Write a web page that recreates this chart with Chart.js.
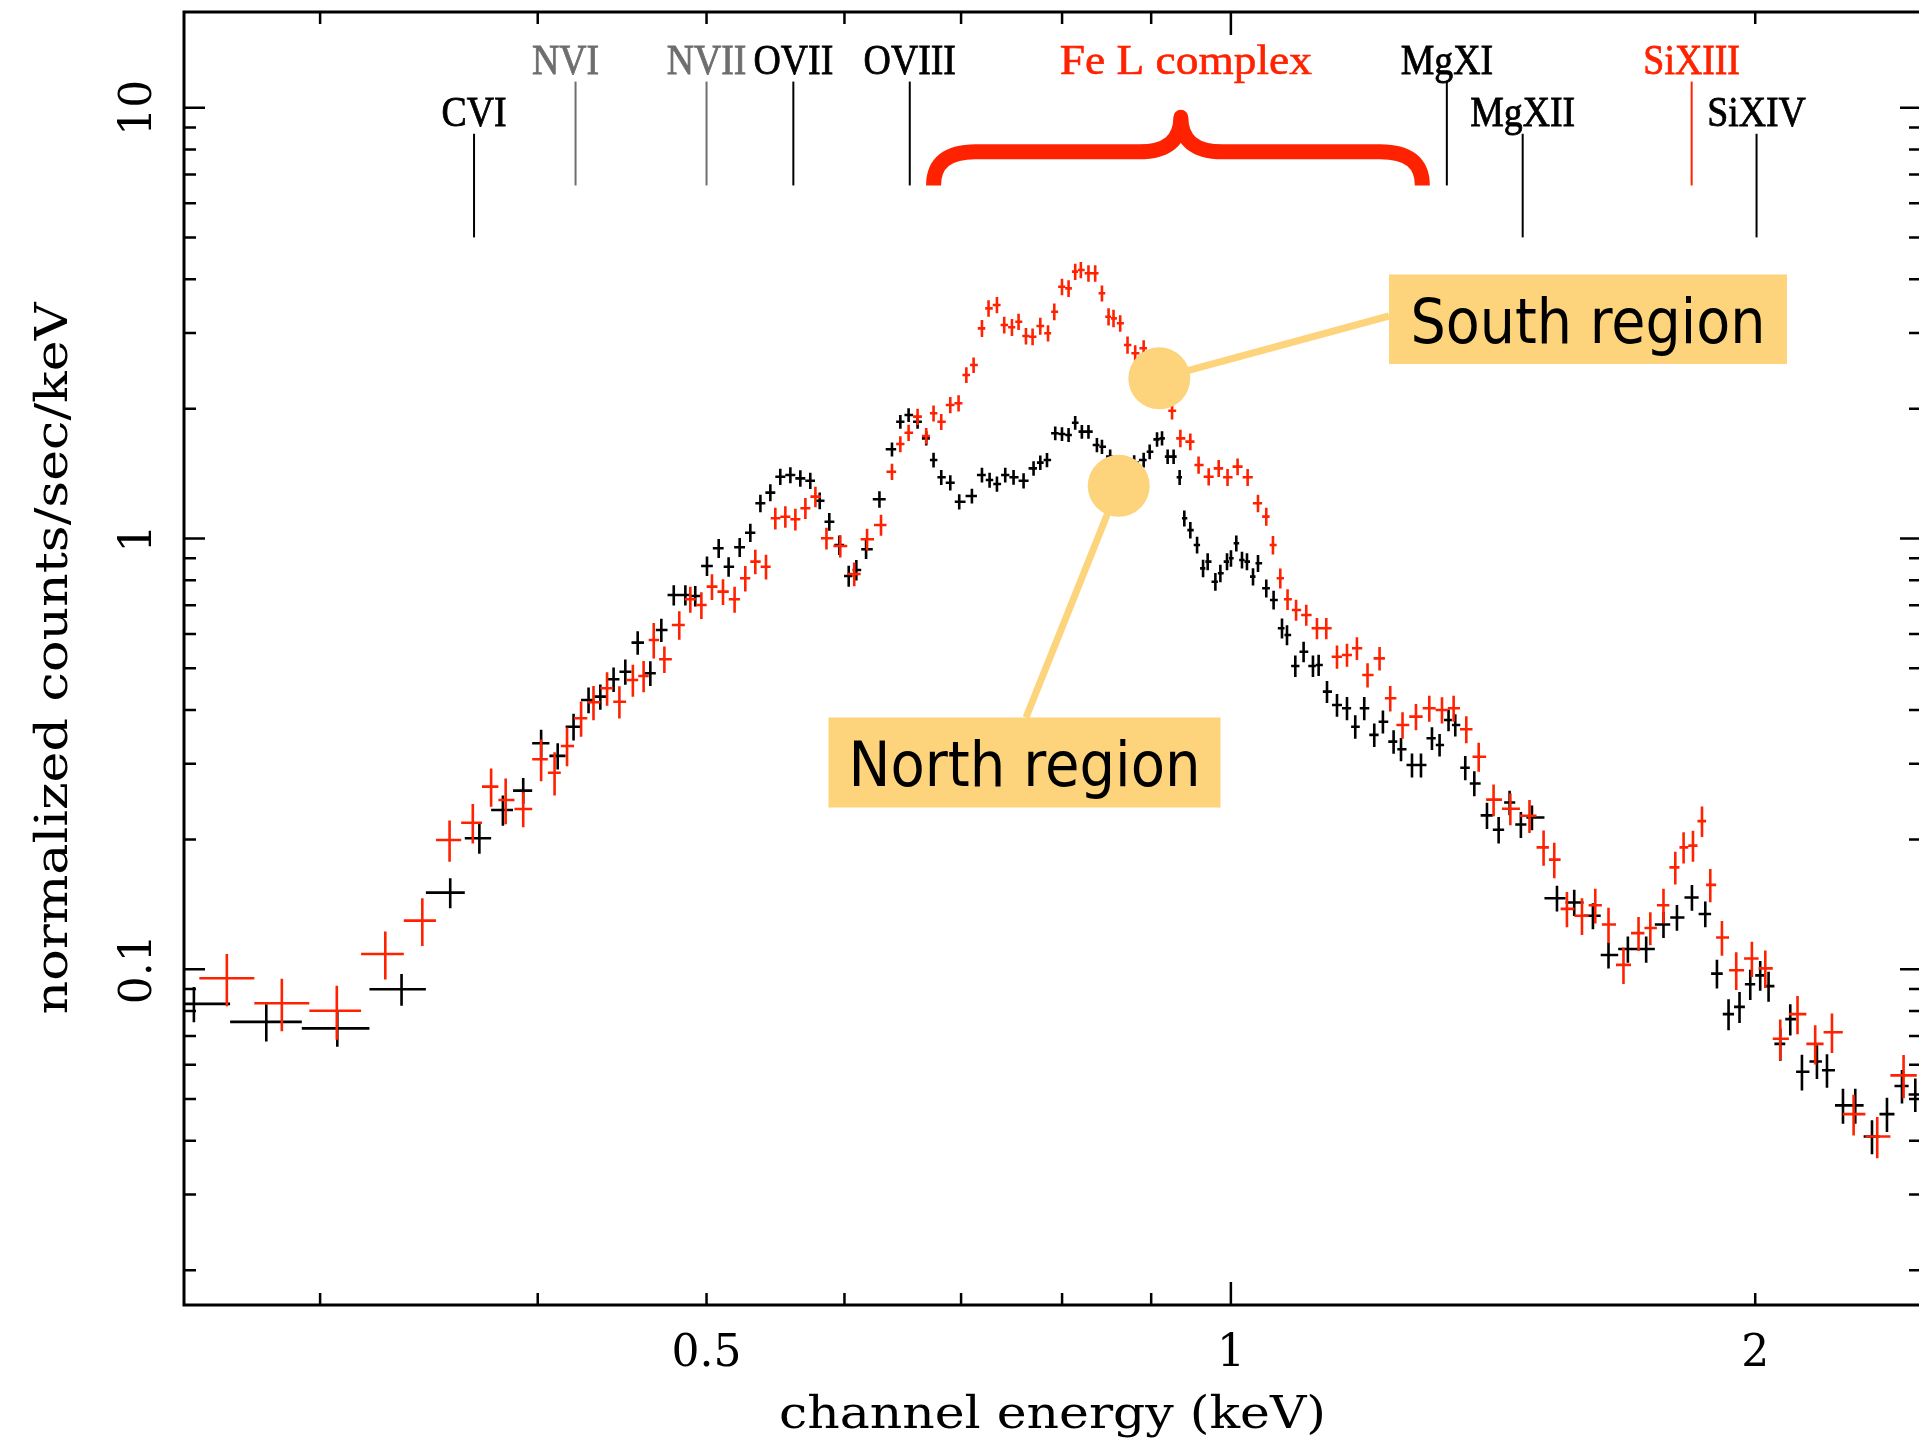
<!DOCTYPE html>
<html>
<head>
<meta charset="utf-8">
<title>North / South region spectra</title>
<script src="https://cdn.jsdelivr.net/npm/chart.js@4.4.1/dist/chart.umd.min.js"></script>
<style>
  html, body { margin: 0; padding: 0; background: #fff; overflow: hidden; }
  #wrap { width: 1922px; height: 1439px; }
</style>
</head>
<body>
<div id="wrap"><canvas id="spec" width="1922" height="1439"></canvas></div>
<script>
// North region: channel energy (keV), rate (counts/s/keV), 1-sigma error
const northEnergy = [
  0.2539, 0.2794, 0.3069, 0.3341, 0.3563, 0.3703, 0.3820, 0.3924, 0.4018, 0.4107,
  0.4194, 0.4278, 0.4345, 0.4422, 0.4491, 0.4565, 0.4642, 0.4710, 0.4788, 0.4862,
  0.4926, 0.5003, 0.5081, 0.5148, 0.5224, 0.5298, 0.5369, 0.5440, 0.5512, 0.5586,
  0.5660, 0.5735, 0.5807, 0.5881, 0.5960, 0.6034, 0.6095, 0.6174, 0.6284, 0.6389,
  0.6460, 0.6531, 0.6609, 0.6685, 0.6750, 0.6819, 0.6901, 0.6983, 0.7101, 0.7196,
  0.7269, 0.7340, 0.7421, 0.7503, 0.7603, 0.7704, 0.7773, 0.7842, 0.7928, 0.7999,
  0.8069, 0.8140, 0.8212, 0.8284, 0.8377, 0.8433, 0.8525, 0.8590, 0.8660, 0.8725,
  0.8800, 0.8911, 0.8982, 0.9070, 0.9130, 0.9198, 0.9271, 0.9345, 0.9403, 0.9478,
  0.9563, 0.9639, 0.9698, 0.9797, 0.9862, 0.9949, 1.0001, 1.0072, 1.0148, 1.0215,
  1.0297, 1.0365, 1.0479, 1.0581, 1.0699, 1.0770, 1.0889, 1.1009, 1.1146, 1.1230,
  1.1355, 1.1506, 1.1659, 1.1787, 1.1928, 1.2087, 1.2226, 1.2400, 1.2522, 1.2705,
  1.2857, 1.3045, 1.3177, 1.3334, 1.3453, 1.3632, 1.3796, 1.4029, 1.4247, 1.4455,
  1.4672, 1.4888, 1.5389, 1.5744, 1.6138, 1.6474, 1.6901, 1.7315, 1.7716, 1.8034,
  1.8395, 1.8722, 1.9013, 1.9307, 1.9589, 1.9869, 2.0132, 2.0356, 2.0673, 2.0948,
  2.1274, 2.1700, 2.1990, 2.2460, 2.2828, 2.3338, 2.3805, 2.4282, 2.4713
];
const northRate = [
  0.0831, 0.0755, 0.0729, 0.0899, 0.1506, 0.2014, 0.2343, 0.2598, 0.3346, 0.3128,
  0.3657, 0.4218, 0.4294, 0.4711, 0.4907, 0.5730, 0.4865, 0.6133, 0.7393, 0.7393,
  0.7354, 0.8634, 0.9489, 0.8601, 0.9541, 1.0315, 1.2071, 1.2775, 1.3915, 1.4041,
  1.3793, 1.3620, 1.2236, 1.0939, 0.9659, 0.8184, 0.8450, 0.9439, 1.2331, 1.611,
  1.866, 1.935, 1.866, 1.708, 1.521, 1.387, 1.347, 1.217, 1.255, 1.404,
  1.367, 1.338, 1.404, 1.387, 1.362, 1.455, 1.500, 1.521, 1.755, 1.748,
  1.739, 1.857, 1.770, 1.770, 1.648, 1.633, 1.549, 1.50, 1.46, 1.47,
  1.50, 1.521, 1.590, 1.699, 1.708, 1.549, 1.549, 1.387, 1.114, 1.046,
  0.966, 0.8526, 0.8836, 0.7938, 0.8303, 0.8836, 0.8995, 0.9747, 0.8915, 0.8836,
  0.8154, 0.8759, 0.7665, 0.7200, 0.6189, 0.5970, 0.506, 0.546, 0.506, 0.5085,
  0.441, 0.4108, 0.4035, 0.3657, 0.4035, 0.350, 0.3756, 0.3376, 0.3241, 0.2979,
  0.2979, 0.3438, 0.3317, 0.379, 0.369, 0.2937, 0.270, 0.2276, 0.2108, 0.2438,
  0.2168, 0.2251, 0.1462, 0.1429, 0.1331, 0.1079, 0.1114, 0.1114, 0.127, 0.1319,
  0.1468, 0.1344, 0.0977, 0.0787, 0.0818, 0.0923, 0.0968, 0.0914, 0.0671, 0.0766,
  0.0578, 0.0611, 0.0583, 0.0483, 0.0483, 0.0409, 0.0461, 0.0536, 0.0512
];
const northErr = [
  0.0078, 0.0075, 0.0068, 0.0076, 0.012, 0.016, 0.019, 0.018, 0.025, 0.022,
  0.026, 0.029, 0.029, 0.031, 0.033, 0.036, 0.032, 0.038, 0.04, 0.04,
  0.04, 0.045, 0.048, 0.045, 0.048, 0.05, 0.056, 0.058, 0.06, 0.06,
  0.06, 0.06, 0.055, 0.052, 0.05, 0.046, 0.046, 0.048, 0.055, 0.06,
  0.068, 0.07, 0.068, 0.065, 0.06, 0.056, 0.055, 0.05, 0.05, 0.055,
  0.055, 0.054, 0.055, 0.055, 0.055, 0.057, 0.058, 0.058, 0.065, 0.065,
  0.065, 0.068, 0.065, 0.065, 0.063, 0.063, 0.06, 0.06, 0.06, 0.06,
  0.06, 0.06, 0.062, 0.065, 0.065, 0.06, 0.06, 0.056, 0.048, 0.046,
  0.043, 0.04, 0.04, 0.038, 0.039, 0.04, 0.04, 0.042, 0.04, 0.04,
  0.038, 0.04, 0.037, 0.036, 0.033, 0.032, 0.029, 0.03, 0.029, 0.029,
  0.026, 0.025, 0.025, 0.023, 0.025, 0.022, 0.023, 0.021, 0.02, 0.019,
  0.019, 0.021, 0.02, 0.022, 0.022, 0.019, 0.018, 0.016, 0.015, 0.016,
  0.015, 0.015, 0.01, 0.01, 0.0093, 0.0075, 0.0078, 0.0078, 0.0088, 0.009,
  0.01, 0.0093, 0.0075, 0.0065, 0.0068, 0.0074, 0.0077, 0.0073, 0.0058, 0.0064,
  0.0055, 0.0055, 0.0052, 0.0045, 0.0045, 0.0037, 0.0042, 0.0048, 0.0046
];

// South region
const southEnergy = [
  0.2652, 0.2852, 0.3067, 0.3270, 0.3434, 0.3560, 0.3671, 0.3761, 0.3834, 0.3924,
  0.4018, 0.4090, 0.4158, 0.4236, 0.4306, 0.4384, 0.4456, 0.4536, 0.4601, 0.4663,
  0.4729, 0.4823, 0.4894, 0.4966, 0.5036, 0.5110, 0.5189, 0.5263, 0.5333, 0.5409,
  0.5476, 0.5549, 0.5623, 0.5698, 0.5774, 0.5859, 0.5967, 0.6078, 0.6182, 0.6297,
  0.6389, 0.6460, 0.6531, 0.6609, 0.6685, 0.6750, 0.6819, 0.6901, 0.6977, 0.7049,
  0.7117, 0.7196, 0.7259, 0.7340, 0.7411, 0.7487, 0.7553, 0.7627, 0.7694, 0.7773,
  0.7853, 0.7918, 0.7999, 0.8069, 0.8140, 0.8201, 0.8284, 0.8358, 0.8433, 0.8507,
  0.8563, 0.8639, 0.8723, 0.8812, 0.8911, 0.8990, 0.9075, 0.9160, 0.9252, 0.9354,
  0.9478, 0.9582, 0.9711, 0.9840, 0.9956, 1.0089, 1.0224, 1.0365, 1.0479, 1.0572,
  1.0675, 1.0778, 1.0900, 1.1048, 1.1205, 1.1344, 1.1506, 1.1659, 1.1813, 1.1980,
  1.2172, 1.2345, 1.2547, 1.2772, 1.2999, 1.3219, 1.3424, 1.3651, 1.3876, 1.4152,
  1.4469, 1.4840, 1.5119, 1.5334, 1.5593, 1.5906, 1.6188, 1.6474, 1.6803, 1.7141,
  1.7410, 1.7716, 1.7994, 1.8193, 1.8420, 1.8641, 1.8846, 1.9139, 1.9504, 1.9912,
  2.0268, 2.0673, 2.1150, 2.1650, 2.2135, 2.2778, 2.3500, 2.4333
];
const southRate = [
  0.0953, 0.0834, 0.0801, 0.1085, 0.1297, 0.1996, 0.2189, 0.2654, 0.2472, 0.2355,
  0.3073, 0.2860, 0.3299, 0.3825, 0.4167, 0.4491, 0.4180, 0.4693, 0.4795, 0.5813,
  0.5243, 0.6298, 0.7226, 0.7007, 0.7730, 0.7526, 0.7226, 0.8084, 0.8836, 0.8601,
  1.1140, 1.1235, 1.1080, 1.1751, 1.2505, 1.001, 0.9607, 0.8271, 0.9957, 1.0747,
  1.4291, 1.657, 1.760, 1.918, 1.729, 1.953, 1.866, 2.041, 2.060, 2.396,
  2.527, 3.075, 3.422, 3.484, 3.130, 3.092, 3.186, 2.952, 2.941, 3.113,
  2.995, 3.361, 3.841, 3.808, 4.163, 4.201, 4.127, 4.127, 3.708, 3.272,
  3.244, 3.159, 2.813, 2.691, 2.764, 2.55, 2.35, 2.15, 1.980, 1.708,
  1.678, 1.481, 1.391, 1.455, 1.387, 1.468, 1.387, 1.207, 1.124, 0.966,
  0.8084, 0.7226, 0.6824, 0.6645, 0.6189, 0.6189, 0.5316, 0.5365, 0.5560, 0.4821,
  0.527, 0.4256, 0.369, 0.3859, 0.4035, 0.3999, 0.4035, 0.3606, 0.3114, 0.2476,
  0.2358, 0.2271, 0.1919, 0.1797, 0.1381, 0.1331, 0.1408, 0.127, 0.1024, 0.1213,
  0.1247, 0.1408, 0.1724, 0.1919, 0.1937, 0.2208, 0.157, 0.1185, 0.0995, 0.1059,
  0.1005, 0.069, 0.0787, 0.0671, 0.0714, 0.0461, 0.0409, 0.0567
];
const southErr = [
  0.0132, 0.0116, 0.0115, 0.0138, 0.0165, 0.022, 0.023, 0.027, 0.03, 0.022,
  0.034, 0.033, 0.034, 0.036, 0.038, 0.04, 0.036, 0.04, 0.04, 0.055,
  0.037, 0.048, 0.05, 0.05, 0.053, 0.052, 0.05, 0.055, 0.058, 0.057,
  0.065, 0.065, 0.065, 0.066, 0.068, 0.058, 0.057, 0.052, 0.058, 0.06,
  0.062, 0.071, 0.076, 0.083, 0.075, 0.084, 0.08, 0.088, 0.089, 0.1,
  0.105, 0.14, 0.15, 0.15, 0.14, 0.14, 0.14, 0.13, 0.13, 0.14,
  0.13, 0.15, 0.17, 0.17, 0.18, 0.18, 0.18, 0.18, 0.16, 0.15,
  0.15, 0.14, 0.13, 0.12, 0.12, 0.11, 0.1, 0.095, 0.09, 0.08,
  0.075, 0.068, 0.064, 0.066, 0.063, 0.066, 0.063, 0.057, 0.054, 0.048,
  0.043, 0.04, 0.038, 0.037, 0.035, 0.035, 0.033, 0.033, 0.034, 0.031,
  0.033, 0.029, 0.026, 0.027, 0.028, 0.028, 0.028, 0.026, 0.024, 0.021,
  0.02, 0.02, 0.018, 0.017, 0.013, 0.013, 0.013, 0.012, 0.01, 0.011,
  0.011, 0.013, 0.015, 0.016, 0.016, 0.018, 0.014, 0.011, 0.01, 0.01,
  0.01, 0.0075, 0.008, 0.007, 0.0075, 0.005, 0.0045, 0.0065
];

// axis ticks
const xTickValues = [0.5, 1, 2];
const xTickLabels = ['0.5', '1', '2'];
const xMinorTicks = [0.3, 0.4, 0.5, 0.6, 0.7, 0.8, 0.9, 2];
const xMajorTicks = [1];
const yTickValues = [0.1, 1, 10];
const yTickLabels = ['0.1', '1', '10'];

// emission line identifications (energy in keV)
const lineNames = ['CVI', 'NVI', 'NVII', 'OVII', 'OVIII', 'MgXI', 'MgXII', 'SiXIII', 'SiXIV'];
const lineEnergies = [0.3677, 0.4205, 0.5000, 0.5608, 0.6541, 1.3304, 1.4707, 1.8388, 2.0035];
const lineRows = [2, 1, 1, 1, 1, 1, 2, 1, 2];

const RED = '#ff2200';
const GREY = '#6e6e6e';
const CALLOUT = '#fdd47c';
const AXIS_FONT = '"DejaVu Serif", serif';
const ID_FONT = '"Liberation Serif", "Times New Roman", serif';
const BOX_FONT = '"DejaVu Sans", Verdana, sans-serif';

const lineColors = { NVI: GREY, NVII: GREY, SiXIII: RED };
const labelShift = { NVI: -10 };
// vertical extent of the marker lines, in counts/s/keV
const rowSpan = { 1: [11.5, 6.6], 2: [8.7, 5.0] };

// Fe L brace: energies of left end, tip, right end; rates of arm, tip, ends
const feBrace = { from: 0.675, tip: 0.936, to: 1.288, arm: 7.9, peak: 9.5, ends: 6.6 };

// callouts pointing into the spectra
const callouts = [
  { text: 'South region', energy: 0.9097, rate: 2.354, box: [1389, 274.5, 398, 89.5], anchor: [1389, 316], width: 355 },
  { text: 'North region', energy: 0.8622, rate: 1.3253, box: [828.5, 717.5, 392, 90], anchor: [1026, 717.5], width: 352 }
];

function toPoints(energy, rate) {
  return energy.map((e, i) => ({ x: e, y: rate[i] }));
}

function drawText(ctx, str, x, y, o) {
  ctx.save();
  ctx.font = o.font;
  ctx.fillStyle = o.color || '#000';
  ctx.textAlign = 'center';
  ctx.textBaseline = 'alphabetic';
  ctx.translate(x, y);
  if (o.rotate) ctx.rotate(o.rotate);
  const sx = o.width ? o.width / ctx.measureText(str).width : (o.scaleX || 1);
  ctx.scale(sx, 1);
  ctx.fillText(str, 0, 0);
  if (o.bold) {
    ctx.strokeStyle = o.color || '#000';
    ctx.lineWidth = o.bold;
    ctx.strokeText(str, 0, 0);
  }
  ctx.restore();
}

// each channel spans halfway (in log) to its neighbours
function drawCrosses(ctx, xs, ys, energy, rate, err, color) {
  const n = energy.length;
  ctx.strokeStyle = color;
  ctx.lineWidth = 2.6;
  ctx.beginPath();
  for (let i = 0; i < n; i++) {
    const e = energy[i];
    const prev = i > 0 ? energy[i - 1] : e * e / energy[i + 1];
    const next = i < n - 1 ? energy[i + 1] : e * e / energy[i - 1];
    const lo = Math.sqrt(prev * e);
    const hi = Math.sqrt(e * next);
    const px = xs.getPixelForValue(e);
    const py = ys.getPixelForValue(rate[i]);
    ctx.moveTo(xs.getPixelForValue(lo), py);
    ctx.lineTo(xs.getPixelForValue(hi), py);
    ctx.moveTo(px, ys.getPixelForValue(rate[i] + err[i]));
    ctx.lineTo(px, ys.getPixelForValue(rate[i] - err[i]));
  }
  ctx.stroke();
}

const spectrumPlugin = {
  id: 'spectrum',
  afterDatasetsDraw(chart) {
    const { ctx, chartArea: a, scales: { x, y } } = chart;
    ctx.save();
    ctx.beginPath();
    ctx.rect(a.left, a.top, a.right - a.left, a.bottom - a.top);
    ctx.clip();
    drawCrosses(ctx, x, y, northEnergy, northRate, northErr, '#000000');
    drawCrosses(ctx, x, y, southEnergy, southRate, southErr, RED);
    ctx.restore();
  },
  afterDraw(chart) {
    const { ctx, chartArea: a, scales: { x, y } } = chart;
    ctx.save();

    // frame and inward ticks
    ctx.strokeStyle = '#000';
    ctx.lineWidth = 2.5;
    ctx.beginPath();
    const xTick = (v, len) => {
      const px = x.getPixelForValue(v);
      ctx.moveTo(px, a.bottom); ctx.lineTo(px, a.bottom - len);
      ctx.moveTo(px, a.top); ctx.lineTo(px, a.top + len);
    };
    xMinorTicks.forEach(v => xTick(v, 12));
    xMajorTicks.forEach(v => xTick(v, 23));
    const yTick = (v, len) => {
      const py = y.getPixelForValue(v);
      ctx.moveTo(a.left, py); ctx.lineTo(a.left + len, py);
      ctx.moveTo(a.right, py); ctx.lineTo(a.right - len, py);
    };
    [0.01, 0.1, 1].forEach(dec => {
      for (let m = 2; m <= 9; m++) {
        const v = m * dec;
        if (v > y.min && v < y.max) yTick(v, 12);
      }
    });
    yTickValues.forEach(v => yTick(v, 21));
    ctx.stroke();
    ctx.lineWidth = 3;
    ctx.strokeRect(a.left, a.top, a.right - a.left, a.bottom - a.top);

    // tick labels and axis titles
    const tickFont = '44px ' + AXIS_FONT;
    xTickValues.forEach((v, i) => {
      drawText(ctx, xTickLabels[i], x.getPixelForValue(v), a.bottom + 61, { font: tickFont });
    });
    yTickValues.forEach((v, i) => {
      drawText(ctx, yTickLabels[i], a.left - 33, y.getPixelForValue(v), { font: tickFont, rotate: -Math.PI / 2 });
    });
    drawText(ctx, 'channel energy (keV)', (a.left + a.right) / 2, a.bottom + 123,
      { font: '44px ' + AXIS_FONT, width: 547 });
    drawText(ctx, 'normalized counts/sec/keV', a.left - 117, (a.top + a.bottom) / 2,
      { font: '44px ' + AXIS_FONT, width: 712, rotate: -Math.PI / 2 });

    // line identifications
    ctx.lineWidth = 2;
    lineNames.forEach((name, i) => {
      const color = lineColors[name] || '#000';
      const px = x.getPixelForValue(lineEnergies[i]);
      const span = rowSpan[lineRows[i]];
      const top = y.getPixelForValue(span[0]);
      ctx.strokeStyle = color;
      ctx.lineWidth = 2;
      ctx.beginPath();
      ctx.moveTo(px, top);
      ctx.lineTo(px, y.getPixelForValue(span[1]));
      ctx.stroke();
      drawText(ctx, name, px + (labelShift[name] || 0), top - 8,
        { font: '42px ' + ID_FONT, color, scaleX: 0.9, bold: 0.8 });
    });

    // Fe L complex brace
    const bl = x.getPixelForValue(feBrace.from);
    const bt = x.getPixelForValue(feBrace.tip);
    const br = x.getPixelForValue(feBrace.to);
    const arm = y.getPixelForValue(feBrace.arm);
    const peak = y.getPixelForValue(feBrace.peak);
    const ends = y.getPixelForValue(feBrace.ends);
    const r = 42;
    ctx.strokeStyle = RED;
    ctx.lineWidth = 15;
    ctx.lineJoin = 'round';
    ctx.beginPath();
    ctx.moveTo(bl, ends);
    ctx.quadraticCurveTo(bl, arm, bl + r, arm);
    ctx.lineTo(bt - r, arm);
    ctx.quadraticCurveTo(bt, arm, bt, peak);
    ctx.quadraticCurveTo(bt, arm, bt + r, arm);
    ctx.lineTo(br - r, arm);
    ctx.quadraticCurveTo(br, arm, br, ends);
    ctx.stroke();
    drawText(ctx, 'Fe L complex', bt + 5, y.getPixelForValue(rowSpan[1][0]) - 8,
      { font: '42px ' + ID_FONT, color: RED, width: 252, bold: 0.6 });

    // callouts
    callouts.forEach(c => {
      const cx = x.getPixelForValue(c.energy);
      const cy = y.getPixelForValue(c.rate);
      ctx.strokeStyle = CALLOUT;
      ctx.lineWidth = 7;
      ctx.beginPath();
      ctx.moveTo(cx, cy);
      ctx.lineTo(c.anchor[0], c.anchor[1]);
      ctx.stroke();
      ctx.fillStyle = CALLOUT;
      ctx.beginPath();
      ctx.arc(cx, cy, 31, 0, Math.PI * 2);
      ctx.fill();
      const [bx, by, bw, bh] = c.box;
      ctx.fillRect(bx, by, bw, bh);
      drawText(ctx, c.text, bx + bw / 2, by + 68, { font: '62px ' + BOX_FONT, width: c.width });
    });

    ctx.restore();
  }
};

new Chart(document.getElementById('spec'), {
  type: 'scatter',
  data: {
    datasets: [
      { label: 'North region', data: toPoints(northEnergy, northRate), borderColor: '#000', backgroundColor: '#000', pointRadius: 0, pointHitRadius: 6 },
      { label: 'South region', data: toPoints(southEnergy, southRate), borderColor: RED, backgroundColor: RED, pointRadius: 0, pointHitRadius: 6 }
    ]
  },
  options: {
    responsive: false,
    animation: false,
    devicePixelRatio: 1,
    layout: { padding: { left: 184, right: 1, top: 12, bottom: 134 } },
    scales: {
      x: { type: 'logarithmic', min: 0.2506, max: 2.49, display: false },
      y: { type: 'logarithmic', min: 0.01662, max: 16.68, display: false }
    },
    plugins: {
      legend: { display: false },
      tooltip: { enabled: true }
    }
  },
  plugins: [spectrumPlugin]
});
</script>
</body>
</html>
